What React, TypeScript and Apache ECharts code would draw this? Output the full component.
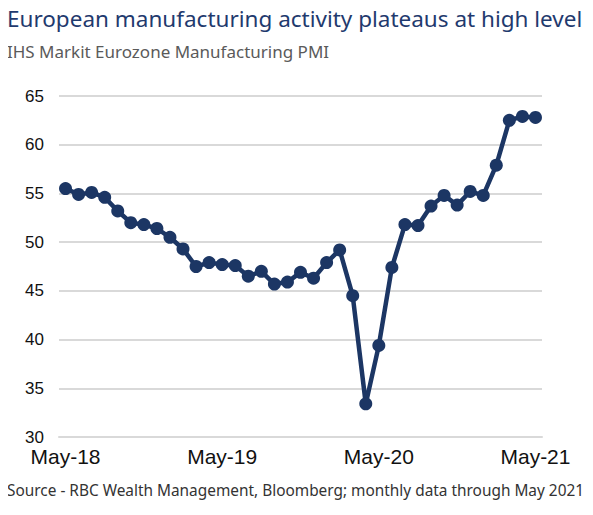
import React, { useEffect, useRef } from "react";
import * as echarts from "echarts";

// Monthly IHS Markit Eurozone Manufacturing PMI, May 2018 – May 2021
const months: string[] = [
  "May-18", "Jun-18", "Jul-18", "Aug-18", "Sep-18", "Oct-18", "Nov-18", "Dec-18",
  "Jan-19", "Feb-19", "Mar-19", "Apr-19", "May-19", "Jun-19", "Jul-19", "Aug-19",
  "Sep-19", "Oct-19", "Nov-19", "Dec-19", "Jan-20", "Feb-20", "Mar-20", "Apr-20",
  "May-20", "Jun-20", "Jul-20", "Aug-20", "Sep-20", "Oct-20", "Nov-20", "Dec-20",
  "Jan-21", "Feb-21", "Mar-21", "Apr-21", "May-21",
];

const pmi: number[] = [
  55.5, 54.9, 55.1, 54.6, 53.2, 52.0, 51.8, 51.4,
  50.5, 49.3, 47.5, 47.9, 47.7, 47.6, 46.5, 47.0,
  45.7, 45.9, 46.9, 46.3, 47.9, 49.2, 44.5, 33.4,
  39.4, 47.4, 51.8, 51.7, 53.7, 54.8, 53.8, 55.2,
  54.8, 57.9, 62.5, 62.9, 62.8,
];

const yMin = 30;
const yMax = 65;
const yStep = 5;

const titleText = "European manufacturing activity plateaus at high level";
const subtitleText = "IHS Markit Eurozone Manufacturing PMI";
const sourceText = "Source - RBC Wealth Management, Bloomberg; monthly data through May 2021";

const FONT = "'Noto Sans', 'Open Sans', sans-serif";
// Axis labels use a face with compact vertical metrics so that the lowest
// value label and the first date label sit close without colliding.
const AXIS_FONT = "'Liberation Sans', Arial, sans-serif";
const NAVY = "#1c3664";

export default function App() {
  const ref = useRef<HTMLDivElement>(null);

  useEffect(() => {
    if (!ref.current) return;
    const chart = echarts.init(ref.current, undefined, { renderer: "svg" });
    const everyYear = (i: number) => i % 12 === 0;

    chart.setOption({
      animation: false,
      backgroundColor: "#ffffff",
      textStyle: { fontFamily: FONT },
      graphic: [
        {
          type: "text",
          left: 7,
          top: 7,
          style: { text: titleText, fill: "#1f3a6e", font: `22.5px ${FONT}` },
        },
        {
          type: "text",
          left: 7,
          top: 43,
          style: { text: subtitleText, fill: "#5a5a5a", font: `17px ${FONT}` },
        },
        {
          type: "text",
          left: 7,
          top: 483,
          style: { text: sourceText, fill: "#333333", font: `15.4px ${FONT}` },
        },
      ],
      grid: { left: 59, right: 51, top: 96, bottom: 78, containLabel: false },
      xAxis: {
        type: "category",
        data: months,
        boundaryGap: true,
        axisLine: { lineStyle: { color: "#d9d9d9", width: 2 } },
        axisTick: { interval: (i: number) => everyYear(i), length: 6, lineStyle: { color: "#d9d9d9", width: 2 } },
        axisLabel: {
          interval: (i: number) => everyYear(i),
          color: "#111111",
          fontSize: 21,
          lineHeight: 20,
          fontFamily: AXIS_FONT,
          margin: 9.5,
        },
        splitLine: { show: false },
      },
      yAxis: {
        type: "value",
        min: yMin,
        max: yMax,
        interval: yStep,
        axisLine: { show: false },
        axisTick: { show: false },
        axisLabel: {
          color: "#111111",
          fontSize: 17,
          lineHeight: 14,
          padding: [0, 0, 5, 0],
          fontFamily: AXIS_FONT,
          margin: 15,
        },
        splitLine: { lineStyle: { color: "#d9d9d9", width: 2 } },
      },
      series: [
        {
          type: "line",
          data: pmi,
          symbol: "circle",
          symbolSize: 13,
          showAllSymbol: true,
          itemStyle: { color: NAVY },
          lineStyle: { color: NAVY, width: 4.5 },
        },
      ],
    });

    return () => chart.dispose();
  }, []);

  return <div ref={ref} style={{ width: 593, height: 515, margin: -8 }} />;
}
